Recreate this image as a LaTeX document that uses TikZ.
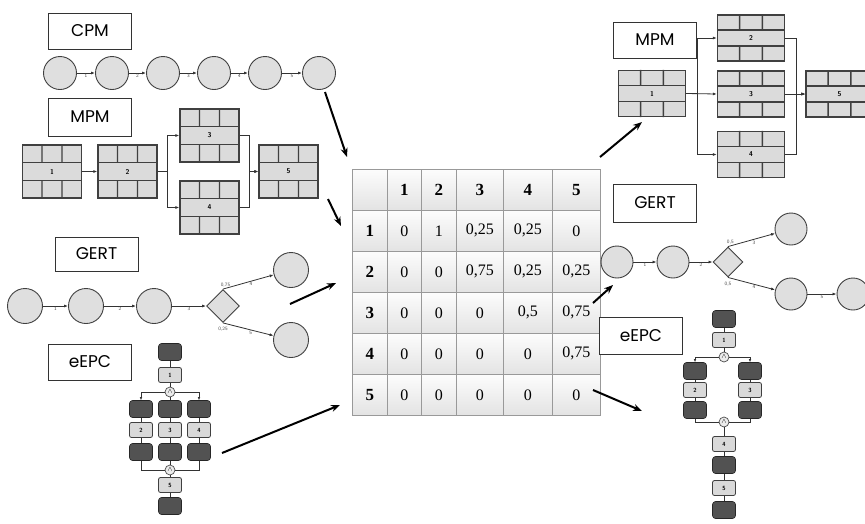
\documentclass[tikz,border=0pt]{standalone}
\usepackage{fontspec}
\setmainfont{Liberation Serif}
\newfontfamily\labfont{Poppins}
\usetikzlibrary{shapes.geometric,arrows.meta,calc,matrix}
\newcommand\mpmgrid[1]{%
  \draw[gridl] ($(#1.north west)!0.3333!(#1.south west)$) -- ($(#1.north east)!0.3333!(#1.south east)$);
  \draw[gridl] ($(#1.north west)!0.6667!(#1.south west)$) -- ($(#1.north east)!0.6667!(#1.south east)$);
  \foreach \f in {0.3333,0.6667}{%
    \path ($(#1.north west)!\f!(#1.north east)$) coordinate (gt)
          ($(#1.south west)!\f!(#1.south east)$) coordinate (gb);
    \draw[gridl] (gt) -- ($(gt)!0.3333!(gb)$) ($(gt)!0.6667!(gb)$) -- (gb);
  }%
}
\begin{document}
\begin{tikzpicture}[x=1pt,y=-1pt,
  lbl/.style={draw=black!80, line width=1pt, fill=white, minimum width=83pt, minimum height=36pt, inner sep=0, font=\labfont\fontsize{17}{17}\selectfont},
  circ/.style={circle, draw=black!75, line width=0.9pt, fill=gray!25, minimum size=33pt, inner sep=0},
  dia/.style={diamond, draw=black!75, line width=0.9pt, fill=gray!25, minimum width=33pt, minimum height=33pt, inner sep=0},
  mpm/.style={draw=black!75, line width=1.3pt, fill=gray!28, minimum width=59pt, minimum height=53pt, inner sep=0, font=\sffamily\bfseries\fontsize{7}{7}\selectfont},
  rmpm/.style={mpm, minimum width=67pt, minimum height=46pt},
  gridl/.style={draw=black!75, line width=1.3pt},
  tarr/.style={draw=black!80, line width=0.8pt, -{Latex[length=4pt,width=3pt]}},
  wire/.style={draw=black!80, line width=0.8pt},
  elab/.style={font=\sffamily\fontsize{5}{5}\selectfont, inner sep=1pt, text=black!70},
  bigarr/.style={line width=2pt, -{Stealth[length=9pt,width=7pt]}},
  ev/.style={rounded corners=3pt, fill=black!68, draw=black!85, line width=0.6pt, minimum width=23pt, minimum height=17pt, inner sep=0},
  fn/.style={rounded corners=2pt, fill=gray!30, draw=black!75, line width=0.8pt, minimum width=23pt, minimum height=15pt, inner sep=0, font=\sffamily\bfseries\fontsize{6}{6}\selectfont},
  andc/.style={circle, draw=black!70, line width=0.7pt, fill=gray!15, minimum size=10pt, inner sep=0, font=\fontsize{7}{7}\selectfont}
]
\useasboundingbox (0,0) rectangle (865,523);
\fill[white] (0,0) rectangle (865,523);

% ---------------- CPM (left top)
\node[lbl] (cpm) at (90,31) {CPM};
\foreach \i/\x in {1/60,2/112,3/163,4/214,5/265,6/319}
  \node[circ] (C\i) at (\x,73) {};
\foreach \a/\b/\t in {C1/C2/1,C2/C3/2,C3/C4/3,C4/C5/4,C5/C6/5}
  \draw[tarr] (\a) -- node[elab,below]{\t} (\b);

% ---------------- MPM (left)
\node[lbl, minimum height=38pt] (mpmL) at (90,117) {MPM};
\node[mpm] (B1) at (52,171.5) {1};
\node[mpm] (B2) at (127.5,171.5) {2};
\node[mpm] (B3) at (209.5,135.5) {3};
\node[mpm] (B4) at (209.5,207.5) {4};
\node[mpm] (B5) at (288.5,171.5) {5};
\foreach \n in {B1,B2,B3,B4,B5} \mpmgrid{\n};
\draw[tarr] (B1) -- (B2);
\draw[tarr] (B2.east) -- ++(10,0) |- (B3.west);
\draw[tarr] (B2.east) -- ++(10,0) |- (B4.west);
\draw[tarr] (B3.east) -- ++(10,0) |- (B5.west);
\draw[tarr] (B4.east) -- ++(10,0) |- (B5.west);

% ---------------- GERT (left)
\node[lbl, minimum height=34pt] (gertL) at (96.5,254) {GERT};
\node[circ, minimum size=35pt] (G1) at (25,306) {};
\node[circ, minimum size=35pt] (G2) at (86,306) {};
\node[circ, minimum size=35pt] (G3) at (154,306) {};
\node[dia] (GD) at (223,306) {};
\node[circ, minimum size=35pt] (G4) at (291,270) {};
\node[circ, minimum size=35pt] (G5) at (291,340) {};
\draw[tarr] (G1) -- node[elab,below]{1} (G2);
\draw[tarr] (G2) -- node[elab,below]{2} (G3);
\draw[tarr] (G3) -- node[elab,below]{3} (GD);
\draw[tarr] (GD.north) -- node[elab,below,pos=0.55]{4} node[elab,above,pos=0.05]{0,75} (G4);
\draw[tarr] (GD.south) -- node[elab,below,pos=0.55]{5} node[elab,below,pos=0.0,yshift=-3pt]{0,25} (G5);

% ---------------- eEPC (left)
\node[lbl] (epcL) at (90,362) {eEPC};
\node[ev] (LE0) at (170,352) {};
\node[fn] (LF1) at (170,375) {1};
\node[andc] (LA1) at (170,392) {$\wedge$};
\node[ev] (LEa) at (141,409) {};
\node[ev] (LEb) at (170,409) {};
\node[ev] (LEc) at (199,409) {};
\node[fn] (LF2) at (141,430) {2};
\node[fn] (LF3) at (170,430) {3};
\node[fn] (LF4) at (199,430) {4};
\node[ev] (LGa) at (141,452) {};
\node[ev] (LGb) at (170,452) {};
\node[ev] (LGc) at (199,452) {};
\node[andc] (LA2) at (170,470) {$\wedge$};
\node[fn] (LF5) at (170,485) {5};
\node[ev] (LE5) at (170,506) {};
\draw[wire] (LE0) -- (LF1);
\draw[wire] (LF1) -- (LA1);
\draw[tarr, -{Latex[length=3pt,width=2.5pt]}] (LA1.west) -| (LEa.north);
\draw[tarr, -{Latex[length=3pt,width=2.5pt]}] (LA1.east) -| (LEc.north);
\draw[wire] (LA1) -- (LEb);
\draw[wire] (LEa) -- (LF2) -- (LGa);
\draw[wire] (LEb) -- (LF3) -- (LGb);
\draw[wire] (LEc) -- (LF4) -- (LGc);
\draw[wire] (LGa.south) |- (LA2.west);
\draw[wire] (LGc.south) |- (LA2.east);
\draw[wire] (LGb) -- (LA2);
\draw[wire] (LA2) -- (LF5);
\draw[wire] (LF5) -- (LE5);

% ---------------- Matrix (centre)
\matrix (M) [matrix of nodes, nodes in empty cells, anchor=north west,
  inner sep=0, outer sep=0, column sep=-0.8pt, row sep=-0.8pt,
  nodes={draw=black!40, line width=0.8pt, top color=gray!2, bottom color=gray!22,
         minimum height=41pt, inner sep=0, anchor=center, font=\fontsize{16}{16}\selectfont},
  column 1/.style={nodes={minimum width=35pt, font=\bfseries\fontsize{17}{17}\selectfont}},
  column 2/.style={nodes={minimum width=34pt}},
  column 3/.style={nodes={minimum width=35pt}},
  column 4/.style={nodes={minimum width=47pt}},
  column 5/.style={nodes={minimum width=49pt}},
  column 6/.style={nodes={minimum width=48pt}},
  row 1/.style={nodes={font=\bfseries\fontsize{17}{17}\selectfont}}
  ] at (352,169) {
     & 1 & 2 & 3    & 4    & 5    \\
   1 & 0 & 1 & 0,25 & 0,25 & 0    \\
   2 & 0 & 0 & 0,75 & 0,25 & 0,25 \\
   3 & 0 & 0 & 0    & 0,5  & 0,75 \\
   4 & 0 & 0 & 0    & 0    & 0,75 \\
   5 & 0 & 0 & 0    & 0    & 0    \\
  };

% ---------------- MPM (right)
\node[rmpm] (R1) at (652,93.5) {1};
\node[rmpm] (R2) at (751,38) {2};
\node[rmpm] (R3) at (751,94) {3};
\node[rmpm] (R4) at (751,154.5) {4};
\node[rmpm] (R5) at (839.5,94) {5};
\foreach \n in {R1,R2,R3,R4,R5} \mpmgrid{\n};
\draw[tarr] (R1.east) -- ++(11,0) |- (R2.west);
\draw[tarr] (R1.east) -- (R3.west);
\draw[tarr] (R1.east) -- ++(11,0) |- (R4.west);
\draw[tarr] (R2.east) -- ++(11,0) |- (R5.west);
\draw[tarr] (R3.east) -- (R5.west);
\draw[tarr] (R4.east) -- ++(11,0) |- (R5.west);
\node[lbl] (mpmR) at (655,40) {MPM};

% ---------------- GERT (right)
\node[lbl, minimum height=38pt] (gertR) at (655,203) {GERT};
\node[circ, minimum size=32pt] (H1) at (617,262) {};
\node[circ, minimum size=32pt] (H2) at (673,262) {};
\node[dia, minimum width=30pt, minimum height=30pt] (HD) at (728,262) {};
\node[circ, minimum size=32pt] (H3) at (791,229) {};
\node[circ, minimum size=32pt] (H4) at (791,294) {};
\node[circ, minimum size=32pt] (H5) at (853,294) {};
\draw[tarr] (H1) -- node[elab,below]{1} (H2);
\draw[tarr] (H2) -- node[elab,below]{2} (HD);
\draw[tarr] (HD.north) -- node[elab,below,pos=0.55]{3} node[elab,above,pos=0.05]{0,5} (H3);
\draw[tarr] (HD.south) -- node[elab,below,pos=0.55]{4} node[elab,below,pos=0.0,yshift=-3pt]{0,5} (H4);
\draw[tarr] (H4) -- node[elab,below]{5} (H5);

% ---------------- eEPC (right)
\node[lbl, minimum height=37pt] (epcR) at (641,336) {eEPC};
\node[ev] (RE0) at (724,319) {};
\node[fn] (RF1) at (724,340) {1};
\node[andc] (RA1) at (724,357) {$\wedge$};
\node[ev] (REa) at (695,371) {};
\node[ev] (REb) at (750,371) {};
\node[fn] (RF2) at (695,390) {2};
\node[fn] (RF3) at (750,390) {3};
\node[ev] (RGa) at (695,410) {};
\node[ev] (RGb) at (750,410) {};
\node[andc] (RA2) at (724,422) {$\wedge$};
\node[fn] (RF4) at (724,444) {4};
\node[ev] (RE4) at (724,465) {};
\node[fn] (RF5) at (724,488) {5};
\node[ev] (RE5) at (724,510) {};
\draw[wire] (RE0) -- (RF1);
\draw[wire] (RF1) -- (RA1);
\draw[tarr, -{Latex[length=3pt,width=2.5pt]}] (RA1.west) -| (REa.north);
\draw[tarr, -{Latex[length=3pt,width=2.5pt]}] (RA1.east) -| (REb.north);
\draw[wire] (REa) -- (RF2) -- (RGa);
\draw[wire] (REb) -- (RF3) -- (RGb);
\draw[wire] (RGa.south) |- (RA2.west);
\draw[wire] (RGb.south) |- (RA2.east);
\draw[wire] (RA2) -- (RF4);
\draw[wire] (RF4) -- (RE4);
\draw[wire] (RE4) -- (RF5);
\draw[wire] (RF5) -- (RE5);

% ---------------- big arrows
\coordinate (a1s) at (325,92);   \coordinate (a1e) at (347,157);
\coordinate (a2s) at (328,199);  \coordinate (a2e) at (341,226);
\coordinate (a3s) at (290,304);  \coordinate (a3e) at (336,283);
\coordinate (a4s) at (222,453);  \coordinate (a4e) at (340,405);
\coordinate (a5s) at (600,157);  \coordinate (a5e) at (642,122);
\coordinate (a6s) at (593,303);  \coordinate (a6e) at (613,285);
\coordinate (a7s) at (593,390);  \coordinate (a7e) at (642,411);
\foreach \k in {1,...,7} \draw[bigarr] (a\k s) -- (a\k e);
\end{tikzpicture}
\end{document}
